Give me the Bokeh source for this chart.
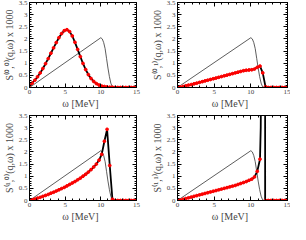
from bokeh.plotting import figure
from bokeh.layouts import gridplot
from bokeh.models import Range1d, FixedTicker, LinearAxis
from bokeh.embed import file_html
from bokeh.resources import INLINE

# energy grid of the calculated points (MeV)
omega = [0, 0.375, 0.75, 1.125, 1.5, 1.875, 2.25, 2.625, 3, 3.375, 3.75, 4.125,
         4.5, 4.875, 5.25, 5.625, 6, 6.375, 6.75, 7.125, 7.5, 7.875, 8.25, 8.625,
         9, 9.375, 9.75, 10.125, 10.5, 10.875, 11.25, 11.625, 12, 12.375, 12.75,
         13.125, 13.5, 13.875, 14.25, 14.625, 15]

s00 = [0.08, 0.18, 0.30, 0.44, 0.60, 0.78, 0.98, 1.19, 1.41, 1.63, 1.85, 2.05,
       2.22, 2.34, 2.38, 2.30, 2.12, 1.86, 1.57, 1.27, 0.99, 0.74, 0.53, 0.37,
       0.25, 0.16, 0.10, 0.06, 0.04, 0.02, 0.01, 0.01, 0, 0, 0,
       0, 0, 0, 0, 0, 0]

s01 = [0.0, 0.02, 0.04, 0.07, 0.10, 0.12, 0.15, 0.18, 0.21, 0.24, 0.27, 0.30,
       0.33, 0.36, 0.39, 0.42, 0.45, 0.48, 0.51, 0.54, 0.57, 0.60, 0.63, 0.66,
       0.69, 0.71, 0.72, 0.73, 0.76, 0.83, 0.88, 0.60, 0.03, 0, 0,
       0, 0, 0, 0, 0, 0]

s10 = [0.0, 0.03, 0.06, 0.10, 0.13, 0.17, 0.21, 0.25, 0.30, 0.34, 0.39, 0.44,
       0.49, 0.54, 0.60, 0.66, 0.72, 0.78, 0.85, 0.92, 1.00, 1.08, 1.17, 1.27,
       1.38, 1.50, 1.66, 1.90, 2.44, 2.93, 1.44, 0.05, 0, 0, 0,
       0, 0, 0, 0, 0, 0]

# S(1,1): points up to the spike, then zeros beyond it
omega11_a = [0, 0.375, 0.75, 1.125, 1.5, 1.875, 2.25, 2.625, 3, 3.375, 3.75, 4.125,
             4.5, 4.875, 5.25, 5.625, 6, 6.375, 6.75, 7.125, 7.5, 7.875, 8.25, 8.625,
             9, 9.375, 9.75, 10.125, 10.5, 10.875, 11.25]
s11_a = [0.0, 0.02, 0.05, 0.08, 0.11, 0.14, 0.17, 0.20, 0.23, 0.26, 0.29, 0.32,
         0.35, 0.38, 0.41, 0.44, 0.47, 0.50, 0.53, 0.56, 0.59, 0.62, 0.66, 0.70,
         0.74, 0.78, 0.83, 0.88, 0.97, 1.20, 1.70]
omega11_b = [12, 12.375, 12.75, 13.125, 13.5, 13.875, 14.25, 14.625, 15]
s11_b = [0, 0, 0, 0, 0, 0, 0, 0, 0]
# the curve through the pole
omega11_line = omega11_a + [11.35, 11.42, 11.95, 11.95] + omega11_b
s11_line = s11_a + [3.0, 6.0, 6.0, 0.0] + s11_b

# thin reference curve (same in every panel)
ref_w = [0, 10, 10.2, 10.4, 10.6, 10.8, 11.0, 11.2, 11.4, 11.6, 11.8, 15]
ref_s = [0, 2.05, 2.0, 1.85, 1.6, 1.2, 0.8, 0.45, 0.18, 0.03, 0, 0]

x_ticks = [0, 5, 10, 15]
y_ticks = [0, 0.5, 1, 1.5, 2, 2.5, 3, 3.5]
y_tick_labels = {0: "0", 0.5: "0.5", 1: "1", 1.5: "1.5", 2: "2", 2.5: "2.5", 3: "3", 3.5: "3.5"}

labels = ["S\u207d\u2070,\u2070\u207e(q,\u03c9) x 1000",
          "S\u207d\u2070,\u00b9\u207e(q,\u03c9) x 1000",
          "S\u207d\u00b9,\u2070\u207e(q,\u03c9) x 1000",
          "S\u207d\u00b9,\u00b9\u207e(q,\u03c9) x 1000"]

FONT = "Liberation Serif"
x_minor = [i for i in range(1, 15) if i % 5]
y_minor = [i / 10 for i in range(1, 35) if i % 5]


def style_axis(ax, ticks, minor, show):
    ax.ticker = FixedTicker(ticks=ticks, minor_ticks=minor)
    ax.major_tick_in = 4
    ax.major_tick_out = 0
    ax.minor_tick_in = 2
    ax.minor_tick_out = 0
    ax.axis_line_color = "black"
    ax.major_tick_line_color = "black"
    ax.minor_tick_line_color = "black"
    ax.major_label_text_font = FONT
    if show:
        ax.major_label_text_font_size = "7px"
        ax.major_label_standoff = 2
        ax.axis_label_text_font = FONT
        ax.axis_label_text_font_style = "normal"
        ax.axis_label_text_font_size = "10px"
        ax.axis_label_standoff = 1
    else:
        ax.major_label_text_font_size = "0px"
        ax.major_label_text_color = None
        ax.major_label_standoff = 0


def make(label, lx, ly, mx, my, width, height, bl, br, bt, bb):
    p = figure(width=width, height=height, output_backend="svg", toolbar_location=None,
               x_range=Range1d(0, 15), y_range=Range1d(0, 3.5),
               min_border_left=bl, min_border_right=br,
               min_border_top=bt, min_border_bottom=bb)
    p.xgrid.grid_line_color = None
    p.ygrid.grid_line_color = None
    p.outline_line_color = "black"
    p.background_fill_color = "white"
    p.border_fill_color = "white"

    p.line(ref_w, ref_s, line_color="#333333", line_width=0.8)
    p.line(lx, ly, line_color="black", line_width=1.8)
    p.scatter(mx, my, size=2.8, color="red", marker="circle")

    style_axis(p.xaxis[0], x_ticks, x_minor, True)
    style_axis(p.yaxis[0], y_ticks, y_minor, True)
    p.xaxis[0].axis_label = "\u03c9   [MeV]"
    p.yaxis[0].axis_label = label
    p.yaxis[0].major_label_overrides = y_tick_labels

    top = LinearAxis()
    right = LinearAxis()
    style_axis(top, x_ticks, x_minor, False)
    style_axis(right, y_ticks, y_minor, False)
    p.add_layout(top, "above")
    p.add_layout(right, "right")
    return p


p1 = make(labels[0], omega, s00, omega, s00, 143, 111, 26, 7, 2, 22)
p2 = make(labels[1], omega, s01, omega, s01, 147, 111, 34, 3, 2, 22)
p3 = make(labels[2], omega, s10, omega, s10, 143, 113, 26, 7, 4, 22)
p4 = make(labels[3], omega11_line, s11_line, omega11_a + omega11_b, s11_a + s11_b,
          147, 113, 34, 3, 4, 22)

p = gridplot([[p1, p2], [p3, p4]], toolbar_location=None)

open("out.html", "w").write(file_html(p, INLINE))
